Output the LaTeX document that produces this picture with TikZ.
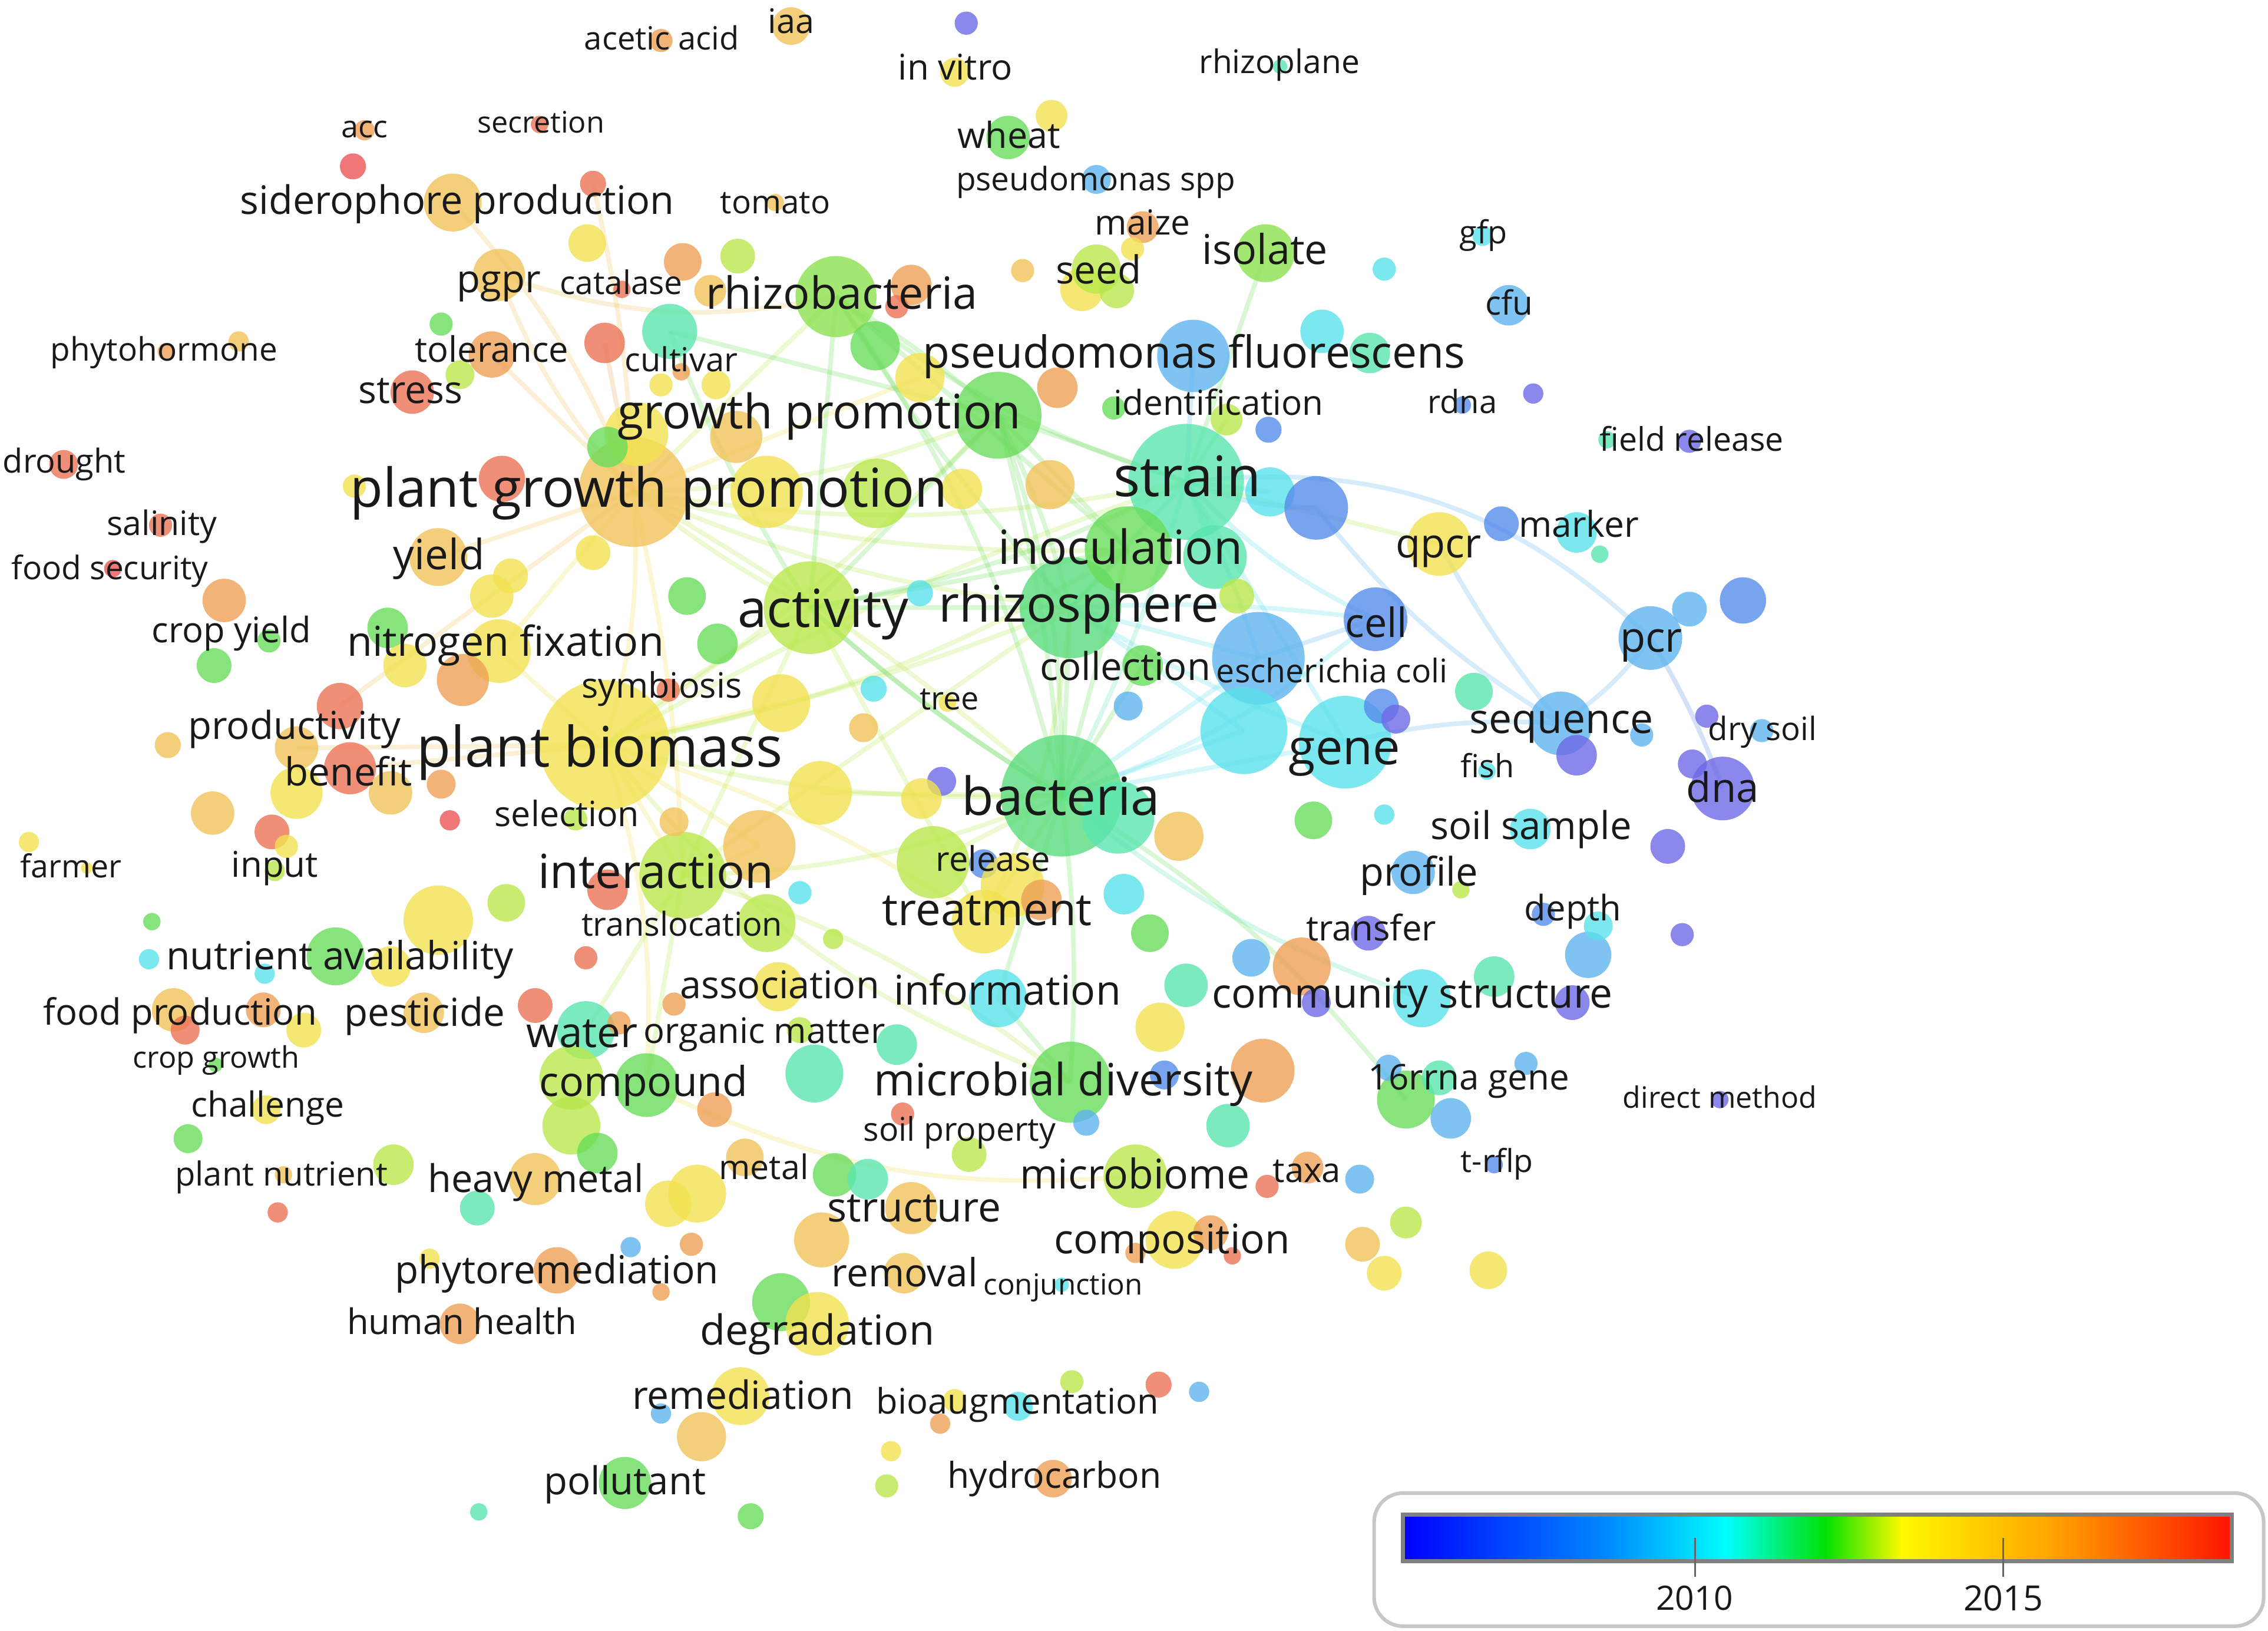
\documentclass[tikz,border=0pt]{standalone}
\usepackage{fontspec}
\setmainfont{Open Sans}
\pgfdeclarelayer{bg}
\pgfdeclarelayer{edges}
\pgfsetlayers{bg,edges,main}
\definecolor{vB}{RGB}{110,105,230}
\definecolor{vBB}{RGB}{85,140,235}
\definecolor{vLB}{RGB}{95,180,240}
\definecolor{vC}{RGB}{90,225,235}
\definecolor{vT}{RGB}{90,230,175}
\definecolor{vG}{RGB}{105,220,90}
\definecolor{vGG}{RGB}{140,225,80}
\definecolor{vGT}{RGB}{90,220,125}
\definecolor{vYG}{RGB}{185,232,75}
\definecolor{vY}{RGB}{242,226,80}
\definecolor{vYO}{RGB}{242,195,90}
\definecolor{vO}{RGB}{238,160,85}
\definecolor{vR}{RGB}{236,115,85}
\definecolor{vRR}{RGB}{236,85,85}
\definecolor{gB}{RGB}{0,0,255}
\definecolor{gLB}{RGB}{0,140,255}
\definecolor{gC}{RGB}{0,255,255}
\definecolor{gG}{RGB}{0,225,0}
\definecolor{gY}{RGB}{255,250,0}
\definecolor{gO}{RGB}{255,165,0}
\definecolor{gR}{RGB}{255,20,0}
\newlength\kwlen
\newcommand\cir[5]{\node[kwc, fill=#5, minimum size=#4*0.2mm] (#1) at (#2,#3) {};}
\newcommand\lab[5]{%
  \node[kwl] (#1) at (#2,#3) {\settowidth\kwlen{\fontsize{10}{12}\selectfont #5}%
    \pgfmathsetmacro\kwfs{2.845*#4/\kwlen}%
    \fontsize{\kwfs pt}{\kwfs pt}\selectfont\raisebox{-0.34em}{#5}};}
\newcommand\edg[4][0]{\draw[kwe, draw=#4] (#2.center) to[bend left=#1] (#3.center);}
\begin{document}
\begin{tikzpicture}[x=0.1mm,y=-0.1mm,
  kwc/.style={circle, inner sep=0pt, draw=none, fill opacity=0.8},
  kwl/.style={anchor=base, inner sep=0pt, text=black!90},
  kwe/.style={line width=0.32mm, draw opacity=0.25}]
\useasboundingbox (0,0) rectangle (1568,1127);
\begin{pgfonlayer}{bg}
\fill[white] (0,0) rectangle (1568,1127);
\end{pgfonlayer}
% ---------- circles ----------
\cir{pbio}{418}{515}{45}{vY}
\cir{bacteria}{734}{550}{42}{vGT}
\cir{strain}{820}{333}{40}{vT}
\cir{pgp}{438}{340}{38}{vYO}
\cir{rhizo}{740}{420}{35}{vGT}
\cir{activity}{560}{420}{32}{vYG}
\cir{gene}{930}{513}{32}{vC}
\cir{c55}{870}{455}{32}{vLB}
\cir{c65}{860}{505}{30}{vC}
\cir{gprom}{690}{287}{30}{vG}
\cir{inoc}{780}{380}{30}{vG}
\cir{interaction}{472}{605}{30}{vYG}
\cir{rhizob}{578}{205}{28}{vGG}
\cir{mdiv}{740}{748}{28}{vG}
\cir{acetic}{457}{28}{8}{vO}
\cir{iaa}{547}{18}{13}{vYO}
\cir{c1}{668}{16}{8}{vB}
\cir{invitro}{660}{50}{10}{vY}
\cir{c2}{727}{80}{11}{vY}
\cir{wheat}{697}{95}{15}{vG}
\cir{rhizoplane}{885}{46}{5}{vT}
\cir{pspp}{758}{124}{10}{vLB}
\cir{acc}{252}{90}{7}{vO}
\cir{c3}{244}{115}{9}{vRR}
\cir{secretion}{373}{86}{6}{vR}
\cir{sidero}{313}{140}{20}{vYO}
\cir{c4}{410}{127}{9}{vR}
\cir{tomato}{536}{140}{6}{vYO}
\cir{maize}{790}{157}{11}{vO}
\cir{c5}{783}{172}{8}{vY}
\cir{isolate}{875}{175}{20}{vGG}
\cir{gfp}{1025}{163}{7}{vC}
\cir{c6}{957}{186}{8}{vC}
\cir{cfu}{1043}{211}{14}{vLB}
\cir{c7}{748}{200}{15}{vY}
\cir{seed}{758}{186}{17}{vYG}
\cir{c8}{772}{201}{12}{vYG}
\cir{c9}{707}{187}{8}{vYO}
\cir{c10}{406}{168}{13}{vY}
\cir{pgpr}{345}{190}{18}{vYO}
\cir{catalase}{430}{200}{6}{vR}
\cir{c11}{472}{181}{13}{vO}
\cir{c12}{510}{177}{12}{vYG}
\cir{c13}{491}{201}{11}{vYO}
\cir{c14}{630}{197}{14}{vO}
\cir{c15}{620}{212}{8}{vR}
\cir{c16}{305}{224}{8}{vG}
\cir{c17}{463}{229}{19}{vT}
\cir{phytoh}{115}{243}{6}{vO}
\cir{c18}{165}{236}{7}{vYO}
\cir{tolerance}{340}{245}{16}{vO}
\cir{c19}{318}{259}{10}{vYG}
\cir{c20}{418}{237}{14}{vR}
\cir{cultivar}{471}{257}{6}{vO}
\cir{stress}{285}{271}{15}{vR}
\cir{c21}{457}{266}{8}{vY}
\cir{c22}{495}{266}{10}{vY}
\cir{c23}{605}{239}{17}{vG}
\cir{pfluor}{825}{246}{25}{vLB}
\cir{c24}{914}{229}{15}{vC}
\cir{c25}{947}{244}{14}{vT}
\cir{c26}{636}{261}{17}{vY}
\cir{c27}{731}{268}{14}{vO}
\cir{ident}{848}{290}{11}{vYG}
\cir{c28}{770}{282}{8}{vG}
\cir{c29}{877}{297}{9}{vBB}
\cir{rdna}{1011}{280}{6}{vBB}
\cir{c30}{1060}{272}{7}{vB}
\cir{c31}{1111}{304}{6}{vT}
\cir{frel}{1168}{305}{8}{vB}
\cir{c32}{440}{300}{22}{vY}
\cir{c33}{509}{302}{18}{vYO}
\cir{c34}{420}{309}{14}{vG}
\cir{drought}{44}{321}{10}{vR}
\cir{c35}{347}{331}{16}{vR}
\cir{c36}{245}{336}{8}{vY}
\cir{c40}{530}{340}{25}{vY}
\cir{c37}{606}{341}{24}{vYG}
\cir{c38}{665}{338}{14}{vY}
\cir{c39}{726}{335}{17}{vYO}
\cir{c41}{878}{340}{17}{vC}
\cir{c42}{910}{351}{22}{vBB}
\cir{c43}{840}{385}{22}{vT}
\cir{qpcr}{995}{376}{22}{vY}
\cir{c44}{1038}{362}{12}{vBB}
\cir{marker}{1090}{368}{14}{vC}
\cir{c45}{1106}{383}{6}{vT}
\cir{salinity}{111}{363}{8}{vR}
\cir{c46}{410}{382}{12}{vY}
\cir{yield}{303}{385}{20}{vYO}
\cir{foodsec}{78}{393}{6}{vRR}
\cir{c47}{340}{412}{15}{vY}
\cir{c48}{353}{398}{12}{vY}
\cir{c49}{155}{415}{15}{vO}
\cir{c50}{475}{412}{13}{vG}
\cir{cropy}{186}{443}{8}{vG}
\cir{c51}{148}{460}{12}{vG}
\cir{c52}{268}{434}{14}{vG}
\cir{c53}{636}{410}{9}{vC}
\cir{c54}{855}{412}{12}{vYG}
\cir{cell}{951}{428}{22}{vBB}
\cir{c56}{496}{445}{14}{vG}
\cir{nfix}{345}{450}{22}{vY}
\cir{c57}{320}{470}{18}{vO}
\cir{c58}{280}{460}{15}{vY}
\cir{pcr}{1141}{441}{22}{vLB}
\cir{c59}{1168}{421}{12}{vLB}
\cir{c60}{1205}{415}{16}{vBB}
\cir{collection}{790}{460}{14}{vG}
\cir{c61}{780}{488}{10}{vLB}
\cir{symb}{462}{477}{8}{vR}
\cir{c62}{540}{486}{20}{vY}
\cir{tree}{655}{486}{6}{vY}
\cir{c63}{604}{476}{9}{vC}
\cir{c64}{597}{503}{10}{vYO}
\cir{c66}{955}{488}{12}{vBB}
\cir{c67}{965}{497}{10}{vB}
\cir{c68}{1019}{478}{13}{vT}
\cir{c69}{235}{488}{16}{vR}
\cir{prod}{205}{517}{15}{vYO}
\cir{c70}{116}{515}{9}{vYO}
\cir{benefit}{242}{531}{18}{vR}
\cir{c71}{205}{548}{18}{vY}
\cir{c72}{270}{548}{15}{vYO}
\cir{c73}{305}{542}{10}{vO}
\cir{seq}{1079}{500}{22}{vLB}
\cir{c74}{1090}{522}{14}{vB}
\cir{c75}{1180}{495}{8}{vB}
\cir{drysoil}{1218}{505}{8}{vLB}
\cir{fish}{1028}{533}{6}{vC}
\cir{c76}{1135}{508}{8}{vLB}
\cir{dna}{1191}{545}{22}{vB}
\cir{c77}{1170}{528}{10}{vB}
\cir{c78}{773}{565}{25}{vT}
\cir{c79}{815}{578}{17}{vYO}
\cir{c80}{651}{540}{10}{vB}
\cir{c81}{637}{552}{14}{vY}
\cir{c82}{567}{548}{22}{vY}
\cir{selection}{398}{566}{8}{vYG}
\cir{c83}{311}{567}{7}{vRR}
\cir{c84}{147}{562}{15}{vYO}
\cir{c85}{188}{575}{12}{vR}
\cir{c86}{198}{585}{8}{vY}
\cir{c87}{20}{582}{7}{vY}
\cir{farmer}{60}{600}{4}{vY}
\cir{input}{190}{602}{7}{vYG}
\cir{c88}{466}{568}{10}{vYO}
\cir{soilsample}{1058}{573}{14}{vC}
\cir{c89}{908}{567}{13}{vG}
\cir{c90}{957}{563}{7}{vC}
\cir{c91}{1153}{585}{12}{vB}
\cir{c92}{420}{615}{14}{vR}
\cir{c93}{525}{585}{25}{vYO}
\cir{c94}{645}{596}{25}{vYG}
\cir{release}{680}{597}{10}{vBB}
\cir{c95}{700}{612}{22}{vY}
\cir{profile}{977}{603}{15}{vLB}
\cir{c96}{1010}{615}{6}{vYG}
\cir{c97}{303}{636}{24}{vY}
\cir{c98}{350}{624}{13}{vYG}
\cir{c99}{553}{617}{8}{vC}
\cir{treatment}{680}{637}{22}{vY}
\cir{c100}{720}{622}{14}{vO}
\cir{c101}{777}{618}{14}{vC}
\cir{depth}{1067}{632}{8}{vBB}
\cir{c102}{1098}{660}{16}{vLB}
\cir{c103}{1105}{640}{10}{vC}
\cir{c104}{1163}{646}{8}{vB}
\cir{transl}{530}{638}{20}{vYG}
\cir{c105}{105}{637}{6}{vG}
\cir{c106}{576}{649}{7}{vYG}
\cir{transfer}{946}{645}{12}{vB}
\cir{c107}{795}{645}{13}{vG}
\cir{nutav}{232}{661}{20}{vG}
\cir{c108}{103}{663}{7}{vC}
\cir{c109}{183}{673}{7}{vC}
\cir{c110}{270}{668}{14}{vY}
\cir{c111}{405}{662}{8}{vR}
\cir{c112}{865}{662}{13}{vLB}
\cir{c113}{900}{668}{20}{vO}
\cir{c114}{910}{693}{10}{vB}
\cir{information}{690}{690}{20}{vC}
\cir{assoc}{538}{682}{17}{vY}
\cir{commstr}{983}{690}{20}{vC}
\cir{c115}{1033}{675}{14}{vT}
\cir{c116}{1087}{693}{12}{vB}
\cir{c117}{820}{681}{15}{vT}
\cir{foodprod}{120}{698}{15}{vYO}
\cir{c118}{128}{712}{10}{vR}
\cir{c119}{210}{712}{12}{vY}
\cir{c120}{182}{698}{12}{vO}
\cir{pesticide}{293}{700}{14}{vYO}
\cir{c121}{370}{695}{12}{vR}
\cir{c122}{466}{694}{8}{vO}
\cir{water}{405}{712}{20}{vT}
\cir{c123}{428}{707}{8}{vO}
\cir{orgm}{553}{712}{9}{vYG}
\cir{c124}{620}{722}{14}{vT}
\cir{c125}{802}{710}{17}{vY}
\cir{c126}{873}{740}{22}{vO}
\cir{cropg}{149}{736}{5}{vG}
\cir{c127}{395}{745}{22}{vYG}
\cir{compound}{447}{750}{22}{vG}
\cir{c128}{395}{778}{20}{vYG}
\cir{c129}{413}{797}{14}{vG}
\cir{c130}{563}{742}{20}{vT}
\cir{c131}{805}{743}{10}{vBB}
\cir{rrna}{972}{760}{20}{vG}
\cir{c132}{1003}{773}{14}{vLB}
\cir{c133}{995}{745}{12}{vT}
\cir{c134}{960}{738}{9}{vLB}
\cir{c135}{1055}{735}{8}{vLB}
\cir{direct}{1189}{760}{6}{vB}
\cir{challenge}{184}{767}{10}{vY}
\cir{c136}{494}{767}{12}{vO}
\cir{c137}{751}{776}{9}{vLB}
\cir{c138}{849}{778}{15}{vT}
\cir{c139}{624}{770}{8}{vR}
\cir{soilprop}{670}{798}{12}{vYG}
\cir{c140}{130}{787}{10}{vG}
\cir{c141}{272}{805}{14}{vYG}
\cir{plantnut}{196}{812}{6}{vYO}
\cir{c142}{192}{838}{7}{vR}
\cir{hmetal}{370}{815}{18}{vYO}
\cir{c143}{330}{835}{12}{vT}
\cir{metal}{515}{800}{13}{vYO}
\cir{c145}{462}{832}{16}{vY}
\cir{c144}{482}{825}{20}{vY}
\cir{c146}{577}{812}{15}{vG}
\cir{c147}{600}{815}{14}{vT}
\cir{mbiome}{785}{813}{22}{vYG}
\cir{taxa}{904}{807}{11}{vO}
\cir{c148}{876}{820}{8}{vR}
\cir{c149}{940}{815}{10}{vLB}
\cir{trflp}{1033}{805}{6}{vBB}
\cir{c150}{972}{845}{11}{vYG}
\cir{structure}{630}{835}{18}{vYO}
\cir{c151}{568}{857}{19}{vYO}
\cir{composition}{812}{857}{20}{vY}
\cir{c152}{837}{852}{12}{vO}
\cir{c153}{852}{868}{6}{vR}
\cir{c154}{785}{866}{7}{vO}
\cir{c155}{942}{860}{12}{vYO}
\cir{c156}{957}{880}{12}{vY}
\cir{c157}{1029}{878}{13}{vY}
\cir{c158}{436}{862}{7}{vLB}
\cir{c159}{478}{860}{8}{vO}
\cir{phytorem}{385}{878}{16}{vO}
\cir{c160}{297}{870}{7}{vY}
\cir{c161}{457}{893}{6}{vO}
\cir{removal}{625}{880}{14}{vYO}
\cir{conj}{734}{888}{5}{vC}
\cir{c162}{540}{900}{20}{vG}
\cir{degr}{565}{915}{22}{vY}
\cir{hhealth}{318}{915}{14}{vO}
\cir{remed}{512}{965}{20}{vY}
\cir{c163}{457}{977}{7}{vLB}
\cir{c164}{485}{993}{17}{vYO}
\cir{c165}{741}{955}{8}{vYG}
\cir{bioaug}{704}{972}{10}{vC}
\cir{c166}{650}{984}{7}{vO}
\cir{c167}{660}{968}{8}{vY}
\cir{c168}{801}{957}{9}{vR}
\cir{c169}{829}{962}{7}{vLB}
\cir{c170}{616}{1003}{7}{vY}
\cir{c171}{613}{1027}{8}{vYG}
\cir{hydro}{728}{1022}{13}{vO}
\cir{pollutant}{432}{1025}{18}{vG}
\cir{c172}{331}{1045}{6}{vT}
\cir{c173}{519}{1048}{9}{vG}
% ---------- edges ----------
\begin{pgfonlayer}{edges}
\edg[10]{sidero}{pgp}{vYO}
\edg[-10]{pgpr}{pgp}{vYO}
\edg[-15]{pgpr}{rhizob}{vYO}
\edg[5]{c4}{pgp}{vYO}
\edg{tolerance}{pgp}{vYO}
\edg{c20}{pgp}{vO}
\edg[10]{pgp}{pbio}{vY}
\edg[-5]{pgp}{activity}{vYG}
\edg[-10]{pgp}{gprom}{vYG}
\edg[-8]{pgp}{rhizo}{vYG}
\edg[5]{pgp}{bacteria}{vYG}
\edg{pgp}{nfix}{vY}
\edg{pgp}{yield}{vYO}
\edg[-10]{pgp}{strain}{vYG}
\edg[5]{pgp}{interaction}{vY}
\edg{pgp}{c69}{vYO}
\edg[-8]{pgp}{inoc}{vYG}
\edg{pgp}{c26}{vY}
\edg[-8]{pbio}{bacteria}{vYG}
\edg[5]{pbio}{activity}{vYG}
\edg[-5]{pbio}{rhizo}{vYG}
\edg{pbio}{interaction}{vY}
\edg[8]{pbio}{treatment}{vY}
\edg[-5]{pbio}{gprom}{vYG}
\edg[5]{pbio}{strain}{vYG}
\edg{pbio}{benefit}{vYO}
\edg{pbio}{prod}{vYO}
\edg{pbio}{nfix}{vY}
\edg{pbio}{c62}{vY}
\edg{pbio}{c93}{vY}
\edg[-10]{pbio}{inoc}{vYG}
\edg[-15]{pbio}{mdiv}{vYG}
\edg[10]{pbio}{compound}{vY}
\edg[5]{rhizob}{gprom}{vG}
\edg[-10]{rhizob}{strain}{vG}
\edg[-5]{rhizob}{rhizo}{vG}
\edg{rhizob}{pgp}{vYG}
\edg{rhizob}{activity}{vG}
\edg{rhizob}{inoc}{vG}
\edg{gprom}{strain}{vG}
\edg[5]{gprom}{rhizo}{vG}
\edg[10]{gprom}{bacteria}{vG}
\edg{gprom}{inoc}{vG}
\edg{gprom}{activity}{vG}
\edg{c17}{gprom}{vG}
\edg{activity}{rhizo}{vG}
\edg[-5]{activity}{bacteria}{vG}
\edg[-8]{activity}{strain}{vG}
\edg{activity}{inoc}{vG}
\edg[5]{activity}{c17}{vG}
\edg{activity}{treatment}{vYG}
\edg{activity}{interaction}{vYG}
\edg{isolate}{strain}{vG}
\edg[25]{strain}{pcr}{vLB}
\edg[-10]{strain}{cell}{vC}
\edg{strain}{rhizo}{vT}
\edg[5]{strain}{bacteria}{vT}
\edg{strain}{gene}{vC}
\edg{strain}{qpcr}{vYG}
\edg{strain}{c43}{vT}
\edg{strain}{c41}{vC}
\edg[-10]{strain}{c42}{vLB}
\edg{strain}{ident}{vG}
\edg{strain}{pfluor}{vLB}
\edg[5]{strain}{c55}{vLB}
\edg[-5]{qpcr}{seq}{vLB}
\edg[-10]{c42}{seq}{vLB}
\edg[10]{pcr}{seq}{vLB}
\edg[5]{pcr}{dna}{vBB}
\edg[8]{gene}{seq}{vLB}
\edg{cell}{c55}{vLB}
\edg[-5]{rhizo}{gene}{vC}
\edg{rhizo}{bacteria}{vG}
\edg[5]{rhizo}{cell}{vC}
\edg{rhizo}{inoc}{vG}
\edg{rhizo}{c65}{vC}
\edg[10]{rhizo}{treatment}{vYG}
\edg{rhizo}{interaction}{vYG}
\edg{rhizo}{c55}{vC}
\edg{bacteria}{gene}{vC}
\edg[5]{bacteria}{mdiv}{vG}
\edg[10]{bacteria}{rrna}{vG}
\edg{bacteria}{treatment}{vYG}
\edg{bacteria}{information}{vG}
\edg{bacteria}{c82}{vYG}
\edg[5]{bacteria}{activity}{vG}
\edg[-5]{bacteria}{gprom}{vG}
\edg{bacteria}{inoc}{vG}
\edg[-10]{bacteria}{cell}{vC}
\edg{bacteria}{c55}{vC}
\edg{bacteria}{c65}{vC}
\edg{bacteria}{collection}{vG}
\edg{bacteria}{c94}{vYG}
\edg[-10]{bacteria}{commstr}{vT}
\edg[10]{bacteria}{interaction}{vYG}
\edg[-10]{bacteria}{rhizob}{vG}
\edg[-15]{compound}{mbiome}{vY}
\edg{information}{mdiv}{vG}
\edg{interaction}{compound}{vYG}
\edg{interaction}{water}{vYG}
\edg[10]{interaction}{mdiv}{vYG}
\edg[5]{c93}{interaction}{vY}
\end{pgfonlayer}
% ---------- labels ----------
\lab{tacetic}{457.5}{27}{107}{acetic acid}
\lab{tiaa}{547}{15}{32}{iaa}
\lab{tinvitro}{660.5}{47}{79}{in vitro}
\lab{trhizoplane}{884.5}{43}{111}{rhizoplane}
\lab{tacc}{252}{88}{32}{acc}
\lab{tsecretion}{374}{85}{88}{secretion}
\lab{twheat}{697.5}{94}{71}{wheat}
\lab{tpspp}{757.5}{124}{193}{pseudomonas spp}
\lab{tsidero}{316}{139}{300}{siderophore production}
\lab{ttomato}{536}{140}{76}{tomato}
\lab{tmaize}{790}{154}{66}{maize}
\lab{tisolate}{874.5}{173}{87}{isolate}
\lab{tgfp}{1025.5}{161}{33}{gfp}
\lab{tseed}{759.5}{187}{59}{seed}
\lab{tpgpr}{345}{193}{58}{pgpr}
\lab{tcatalase}{429.5}{196}{85}{catalase}
\lab{trhizob}{582}{203}{188}{rhizobacteria}
\lab{tcfu}{1043.5}{210}{33}{cfu}
\lab{tphytoh}{113.5}{242}{157}{phytohormone}
\lab{ttolerance}{340}{242}{106}{tolerance}
\lab{tcultivar}{471}{249}{78}{cultivar}
\lab{tpfluor}{825.5}{244}{375}{pseudomonas fluorescens}
\lab{tstress}{284}{270}{72}{stress}
\lab{tident}{842.5}{279}{145}{identification}
\lab{trdna}{1011}{278}{48}{rdna}
\lab{tgprom}{566.5}{285}{279}{growth promotion}
\lab{tfrel}{1169.5}{304}{127}{field release}
\lab{tdrought}{44.5}{319}{85}{drought}
\lab{tpgp}{448.5}{338}{413}{plant growth promotion}
\lab{tstrain}{821}{330}{102}{strain}
\lab{tsalinity}{112}{362}{76}{salinity}
\lab{tqpcr}{994.5}{376}{59}{qpcr}
\lab{tmarker}{1091.5}{363}{83}{marker}
\lab{tinoc}{774.5}{379}{169}{inoculation}
\lab{tyield}{303.5}{384}{63}{yield}
\lab{tfoodsec}{76}{393}{136}{food security}
\lab{tactivity}{569}{421}{118}{activity}
\lab{trhizo}{746}{418}{194}{rhizosphere}
\lab{tcropy}{160}{436}{110}{crop yield}
\lab{tcell}{951.5}{431}{43}{cell}
\lab{tpcr}{1141.5}{441}{43}{pcr}
\lab{tnfix}{349.5}{444}{219}{nitrogen fixation}
\lab{tcollection}{778}{461}{118}{collection}
\lab{tecoli}{921}{464}{160}{escherichia coli}
\lab{tsymb}{457.5}{474}{111}{symbiosis}
\lab{ttree}{656.5}{483}{41}{tree}
\lab{tseq}{1079.5}{497}{127}{sequence}
\lab{tdrysoil}{1218.5}{504}{75}{dry soil}
\lab{tprod}{203.5}{502}{147}{productivity}
\lab{tpbio}{414.5}{517}{253}{plant biomass}
\lab{tgene}{929.5}{517}{77}{gene}
\lab{tbenefit}{241}{534}{88}{benefit}
\lab{tfish}{1028.5}{530}{37}{fish}
\lab{tdna}{1191}{545}{50}{dna}
\lab{tbacteria}{733.5}{551}{137}{bacteria}
\lab{tselection}{392}{563}{100}{selection}
\lab{tsoilsample}{1058.5}{571}{139}{soil sample}
\lab{tfarmer}{49}{599}{70}{farmer}
\lab{tinput}{190}{598}{60}{input}
\lab{tinteraction}{453.5}{603}{163}{interaction}
\lab{trelease}{686.5}{594}{79}{release}
\lab{tprofile}{981}{603}{82}{profile}
\lab{ttreatment}{682.5}{629}{145}{treatment}
\lab{tdepth}{1087.5}{628}{67}{depth}
\lab{ttransl}{471.5}{639}{139}{translocation}
\lab{ttransfer}{948}{642}{90}{transfer}
\lab{tnutav}{235}{661}{240}{nutrient availability}
\lab{tassoc}{539}{681}{138}{association}
\lab{tinformation}{696.5}{685}{157}{information}
\lab{tcommstr}{976.5}{687}{277}{community structure}
\lab{tfoodprod}{124.5}{700}{189}{food production}
\lab{tpesticide}{293.5}{700}{111}{pesticide}
\lab{twater}{402.5}{714}{77}{water}
\lab{torgm}{528.5}{713}{167}{organic matter}
\lab{tcropg}{149.5}{731}{115}{crop growth}
\lab{tcompound}{445}{748}{144}{compound}
\lab{tmdiv}{735}{747}{262}{microbial diversity}
\lab{trrna}{1015.5}{745}{139}{16rrna gene}
\lab{tdirect}{1189}{759}{134}{direct method}
\lab{tchallenge}{185}{764}{106}{challenge}
\lab{tsoilprop}{663.5}{781}{133}{soil property}
\lab{tplantnut}{194.5}{812}{147}{plant nutrient}
\lab{thmetal}{370.5}{815}{149}{heavy metal}
\lab{tmetal}{528}{807}{62}{metal}
\lab{tmbiome}{784.5}{812}{159}{microbiome}
\lab{ttaxa}{903.5}{809}{47}{taxa}
\lab{ttrflp}{1035}{803}{50}{t-rflp}
\lab{tstructure}{632}{835}{120}{structure}
\lab{tcomposition}{810.5}{857}{163}{composition}
\lab{tphytorem}{385}{878}{224}{phytoremediation}
\lab{tremoval}{625.5}{880}{101}{removal}
\lab{tconj}{735}{888}{110}{conjunction}
\lab{thhealth}{319.5}{914}{159}{human health}
\lab{tdegr}{565}{920}{162}{degradation}
\lab{tremed}{513.5}{965}{153}{remediation}
\lab{tbioaug}{703.5}{969}{195}{bioaugmentation}
\lab{thydro}{729}{1020}{148}{hydrocarbon}
\lab{tpollutant}{432}{1024}{112}{pollutant}
% ---------- legend ----------
\draw[black!22, line width=0.25mm, rounded corners=2mm] (950,1032) rectangle (1565,1124);
\shade[left color=gB, right color=gLB] (970,1047) rectangle (1114,1079);
\shade[left color=gLB, right color=gC] (1113,1047) rectangle (1194,1079);
\shade[left color=gC, right color=gG] (1193,1047) rectangle (1263,1079);
\shade[left color=gG, right color=gY] (1262,1047) rectangle (1315,1079);
\shade[left color=gY, right color=gO] (1314,1047) rectangle (1418,1079);
\shade[left color=gO, right color=gR] (1417,1047) rectangle (1543,1079);
\draw[black!50, line width=0.3mm] (970,1047) rectangle (1543,1079);
\coordinate (k1a) at (1172,1063);
\coordinate (k1b) at (1172,1090);
\coordinate (k2a) at (1385,1063);
\coordinate (k2b) at (1385,1090);
\draw[black!60, line width=0.12mm] (k1a) -- (k1b);
\draw[black!60, line width=0.12mm] (k2a) -- (k2b);
\lab{y2010}{1171.5}{1105}{53}{2010}
\lab{y2015}{1385}{1105}{55}{2015}
\end{tikzpicture}
\end{document}
